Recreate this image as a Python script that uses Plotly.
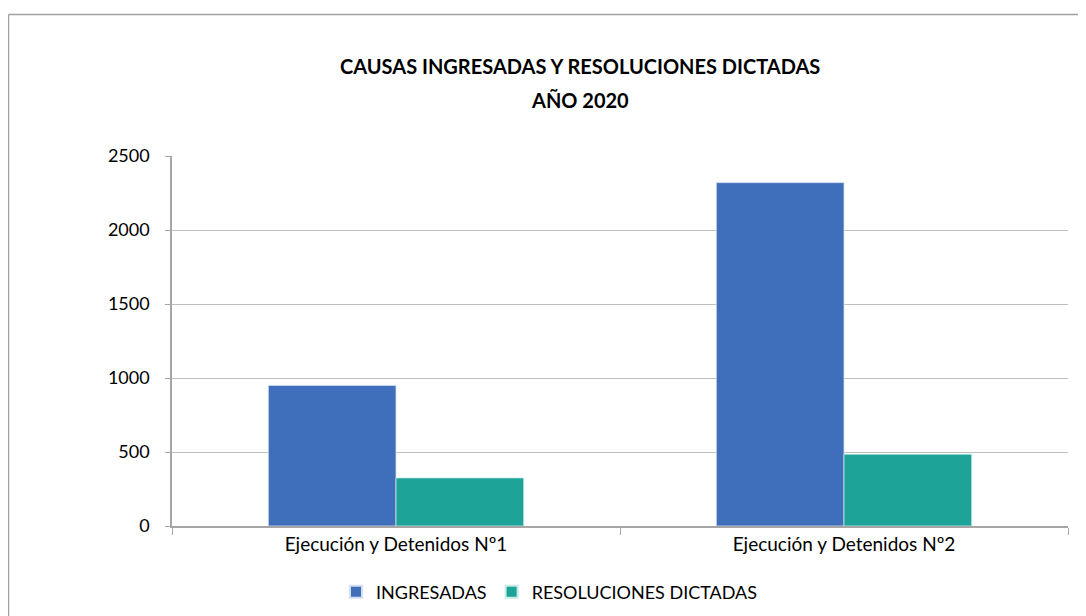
import plotly.graph_objects as go

categories = ["Ejecución y Detenidos Nº1", "Ejecución y Detenidos Nº2"]
ingresadas = [950, 2320]
resoluciones = [325, 485]
series_names = ["INGRESADAS", "RESOLUCIONES DICTADAS"]
y_ticks = [0, 500, 1000, 1500, 2000, 2500]
title_lines = ["CAUSAS INGRESADAS Y RESOLUCIONES DICTADAS", "AÑO 2020"]

FONT = "Lato"
OFF = 8  # page body margin
W, H = 1086 - OFF, 616 - OFF
# target screen coords of plot area
SL, SR, ST, SB = 172, 1068, 156, 526
L, T = SL - OFF, ST - OFF
R = W - (SR - OFF)
B = H - (SB - OFF)
pw, ph = W - L - R, H - T - B

def px_x(x):
    return (x - SL) / (SR - SL)

def px_y(y):
    return (SB - y) / (SB - ST)

fig = go.Figure()
fig.add_trace(go.Bar(x=categories, y=ingresadas, name=series_names[0],
                     marker=dict(color="#3F6EBA", line=dict(color="#d5def0", width=0.8))))
fig.add_trace(go.Bar(x=categories, y=resoluciones, name=series_names[1],
                     marker=dict(color="#1DA397", line=dict(color="#c8ebe7", width=0.8))))

annotations = []
for txt, yc in zip(title_lines, [66, 100]):
    annotations.append(dict(text="<b>" + txt + "</b>", xref="paper", yref="paper",
                            x=px_x(580), y=px_y(yc), xanchor="center", yanchor="middle",
                            showarrow=False, font=dict(family=FONT, size=20, color="#000000")))

fig.update_layout(
    width=W, height=H,
    margin=dict(l=L, r=R, t=T, b=B, autoexpand=False),
    paper_bgcolor="white", plot_bgcolor="white",
    barmode="group", bargap=0.43, bargroupgap=0,
    font=dict(family=FONT, size=18, color="#000000"),
    annotations=annotations,
    showlegend=True,
    legend=dict(orientation="h", x=px_x(336), xanchor="left", y=px_y(592), yanchor="middle",
                font=dict(family=FONT, size=18, color="#000000"),
                itemsizing="constant", bgcolor="rgba(0,0,0,0)"),
    xaxis=dict(showgrid=False, showline=True, linecolor="#a6a6a6", linewidth=1.5,
               ticks="outside", tickson="boundaries", ticklen=7, tickcolor="#a6a6a6",
               automargin=False,
               tickfont=dict(family=FONT, size=19, color="#000000")),
    yaxis=dict(range=[0, 2500], tickvals=y_ticks, showgrid=True, gridcolor="#bfbfbf", gridwidth=1.2,
               showline=True, linecolor="#a6a6a6", linewidth=1.5, zeroline=False,
               ticks="outside", ticklen=5, tickcolor="#a6a6a6", ticklabelstandoff=12,
               automargin=False,
               tickfont=dict(family=FONT, size=18, color="#000000")),
    shapes=[
        dict(type="line", xref="paper", yref="paper", x0=px_x(8.5), x1=px_x(1100),
             y0=px_y(14.5), y1=px_y(14.5), line=dict(color="#a0a0a0", width=1.5)),
        dict(type="line", xref="paper", yref="paper", x0=px_x(8.5), x1=px_x(8.5),
             y0=px_y(14.5), y1=px_y(640), line=dict(color="#a0a0a0", width=1.5)),
    ],
)

fig.write_html("out.html")
